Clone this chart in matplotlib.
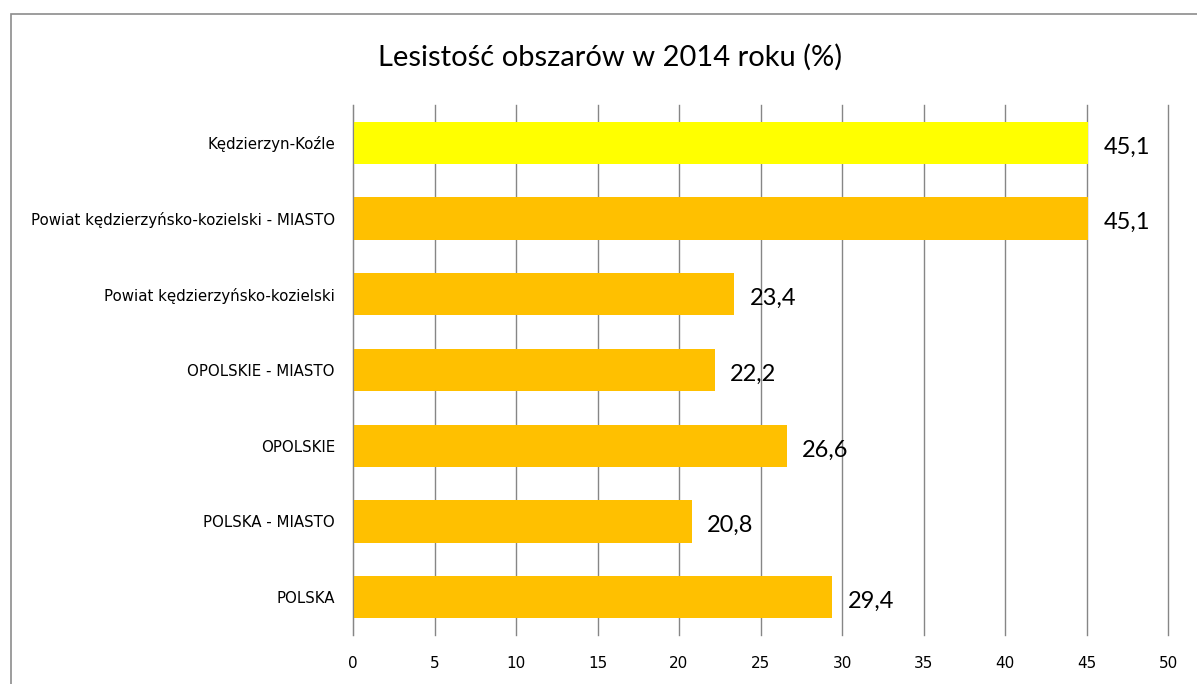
import matplotlib
matplotlib.use("Agg")
import matplotlib.pyplot as plt
from matplotlib.patches import Rectangle

categories = [
    "POLSKA",
    "POLSKA - MIASTO",
    "OPOLSKIE",
    "OPOLSKIE - MIASTO",
    "Powiat kędzierzyńsko-kozielski",
    "Powiat kędzierzyńsko-kozielski - MIASTO",
    "Kędzierzyn-Koźle",
]
values = [29.4, 20.8, 26.6, 22.2, 23.4, 45.1, 45.1]
value_labels = ["29,4", "20,8", "26,6", "22,2", "23,4", "45,1", "45,1"]
bar_colors = ["#FFC000"] * 6 + ["#FFFF00"]
x_ticks = [0, 5, 10, 15, 20, 25, 30, 35, 40, 45, 50]
title = "Lesistość obszarów w 2014 roku (%)"

fig = plt.figure(figsize=(11.97, 6.84), dpi=100)
fig.patch.set_facecolor("white")

# outer chart border
fig.patches.append(Rectangle((11 / 1197, -0.05), 1.2, 1 - 14 / 684 + 0.05,
                             transform=fig.transFigure, fill=False,
                             edgecolor="#8c8c8c", linewidth=1.2))

ax = fig.add_axes([353 / 1197, 1 - 635 / 684, (1168 - 353) / 1197, (635 - 105) / 684])
ypos = list(range(len(categories)))
ax.barh(ypos, values, height=0.56, color=bar_colors, zorder=3)
ax.set_xlim(0, 50)
ax.set_ylim(-0.5, len(categories) - 0.5)
ax.set_xticks(x_ticks)
ax.set_xticklabels([str(t) for t in x_ticks], fontsize=11, family="DejaVu Sans")
ax.set_yticks(ypos)
ax.set_yticklabels(categories, fontsize=10.8, family="DejaVu Sans")
ax.tick_params(axis="x", length=0, pad=15)
ax.tick_params(axis="y", length=0, pad=13)
ax.grid(axis="x", color="#868686", linewidth=1.0, zorder=0)
for gl in ax.get_xgridlines():
    gl.set_clip_on(False)
for s in ["top", "right", "bottom"]:
    ax.spines[s].set_visible(False)
ax.spines["left"].set_color("#868686")
ax.spines["left"].set_zorder(4)

for y, v, lab in zip(ypos, values, value_labels):
    ax.annotate(lab, (v, y), xytext=(11, -3), textcoords="offset points",
                ha="left", va="center", fontsize=17, family="Lato", zorder=5)

fig.text(610 / 1197, 1 - 57 / 684, title, ha="center", va="center",
         fontsize=21, family="Lato")

fig.savefig("out.png", dpi=100)
